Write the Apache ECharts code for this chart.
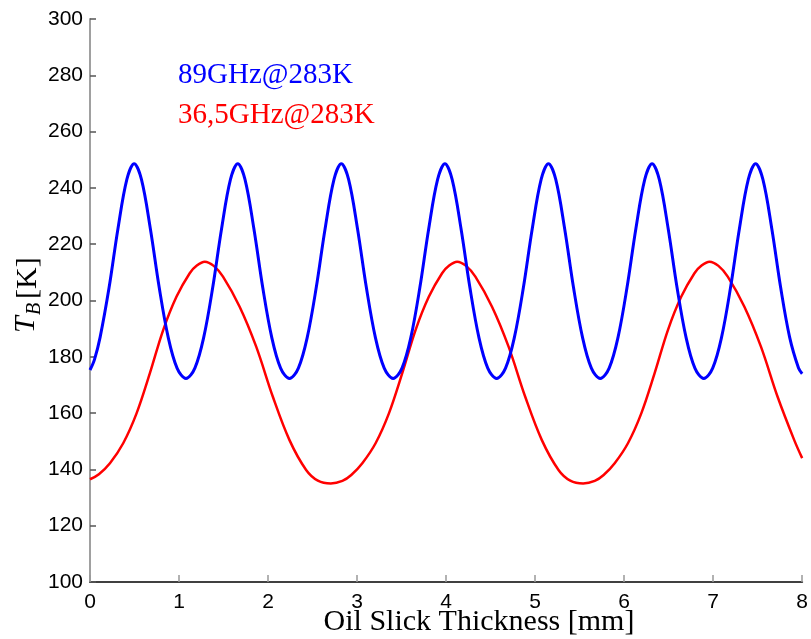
<!DOCTYPE html>
<html>
<head>
<meta charset="utf-8">
<script src="https://cdn.jsdelivr.net/npm/echarts@6/dist/echarts.min.js"></script>
<style>html,body{margin:0;padding:0;background:#fff;}#c{width:811px;height:639px;}</style>
</head>
<body>
<div id="c"></div>
<script>
// Values: [thickness mm, T_B K]
var blue89 = [
[0,175.3],[0.05,179],[0.114,187],[0.214,204.5],[0.314,225.5],[0.414,243],[0.496,248.6],
[0.578,243],[0.678,225.5],[0.778,204.5],[0.878,187],[0.978,176],[1.078,172.3],
[1.178,176],[1.278,187],[1.378,204.5],[1.478,225.5],[1.578,243],[1.660,248.6],
[1.741,243],[1.841,225.5],[1.941,204.5],[2.041,187],[2.141,176],[2.241,172.3],
[2.341,176],[2.441,187],[2.541,204.5],[2.641,225.5],[2.741,243],[2.823,248.6],
[2.905,243],[3.005,225.5],[3.105,204.5],[3.205,187],[3.305,176],[3.405,172.3],
[3.505,176],[3.605,187],[3.705,204.5],[3.805,225.5],[3.905,243],[3.987,248.6],
[4.068,243],[4.168,225.5],[4.268,204.5],[4.368,187],[4.468,176],[4.568,172.3],
[4.668,176],[4.768,187],[4.868,204.5],[4.968,225.5],[5.068,243],[5.150,248.6],
[5.232,243],[5.332,225.5],[5.432,204.5],[5.532,187],[5.632,176],[5.732,172.3],
[5.832,176],[5.932,187],[6.032,204.5],[6.132,225.5],[6.232,243],[6.314,248.6],
[6.395,243],[6.495,225.5],[6.595,204.5],[6.695,187],[6.795,176],[6.895,172.3],
[6.995,176],[7.095,187],[7.195,204.5],[7.295,225.5],[7.395,243],[7.477,248.6],
[7.559,243],[7.659,225.5],[7.759,204.5],[7.859,187],[7.959,176],[8.0,174]
];
var red365 = [
[0,136.5],[0.1,138.3],[0.224,142.2],[0.373,149.3],[0.523,159.9],[0.672,174.1],[0.822,189.5],
[0.971,201.3],[1.12,209.7],[1.20,212.4],[1.289,213.8],[1.39,212.3],[1.494,208.5],[1.681,197.8],
[1.867,183.6],[2.054,165.8],[2.241,150.4],[2.428,139.8],[2.56,136.0],[2.705,135],
[2.835,135.9],[2.935,138.0],[3.059,142.2],[3.208,149.3],[3.358,159.9],[3.507,174.1],[3.657,189.5],
[3.806,201.3],[3.955,209.7],[4.035,212.4],[4.124,213.8],[4.225,212.3],[4.329,208.5],[4.516,197.8],
[4.702,183.6],[4.889,165.8],[5.076,150.4],[5.263,139.8],[5.395,136.0],[5.54,135],
[5.67,135.9],[5.77,138.0],[5.894,142.2],[6.043,149.3],[6.193,159.9],[6.342,174.1],[6.492,189.5],
[6.641,201.3],[6.79,209.7],[6.87,212.4],[6.959,213.8],[7.06,212.3],[7.164,208.5],[7.351,197.8],
[7.537,183.6],[7.724,165.8],[7.911,150.4],[8.0,144]
];
var seriesNames = ['89GHz@283K', '36,5GHz@283K'];
var xName = 'Oil Slick Thickness [mm]';

var chart = echarts.init(document.getElementById('c'), null, {renderer: 'canvas'});
var serif = '"Liberation Serif", "Times New Roman", serif';
var sans = '"Liberation Sans", Arial, Helvetica, sans-serif';
chart.setOption({
  animation: false,
  backgroundColor: '#ffffff',
  grid: {left: 90, right: 7, top: 19, bottom: 57, containLabel: false},
  xAxis: {
    type: 'value', min: 0, max: 8, interval: 1,
    axisLine: {show: true, onZero: false, lineStyle: {color: '#404040', width: 2}},
    axisTick: {show: true, inside: true, length: 7, lineStyle: {color: '#999999', width: 1.5}},
    axisLabel: {color: '#000', fontFamily: sans, fontSize: 21, margin: 10},
    splitLine: {show: false}
  },
  yAxis: {
    type: 'value', min: 100, max: 300, interval: 20,
    axisLine: {show: true, onZero: false, lineStyle: {color: '#a0a0a0', width: 2}},
    axisTick: {show: true, inside: true, length: 6, lineStyle: {color: '#555555', width: 1.5}},
    axisLabel: {color: '#000', fontFamily: sans, fontSize: 21, margin: 7},
    splitLine: {show: false}
  },
  series: [
    {name: seriesNames[0], type: 'line', data: blue89, showSymbol: false, smooth: 0.35,
     lineStyle: {color: '#0000ff', width: 3}, z: 3},
    {name: seriesNames[1], type: 'line', data: red365, showSymbol: false, smooth: 0.35,
     lineStyle: {color: '#ff0000', width: 2.5}, z: 2}
  ],
  graphic: [
    {type: 'text', left: 178, top: 61, style: {text: seriesNames[0], fill: '#0000ff', font: '29px ' + serif}},
    {type: 'text', left: 178, top: 101, style: {text: seriesNames[1], fill: '#ff0000', font: '29px ' + serif}},
    {type: 'text', x: 479, y: 622, style: {text: xName, fill: '#000', font: '30px ' + serif, textAlign: 'center', textVerticalAlign: 'middle'}},
    {type: 'group', x: 28, y: 296, rotation: Math.PI / 2, children: [
      {type: 'text', x: -37, y: -2, style: {text: 'T', fill: '#000', font: 'italic 30px ' + serif, textAlign: 'left', textVerticalAlign: 'middle'}},
      {type: 'text', x: -19, y: 7, style: {text: 'B', fill: '#000', font: 'italic 20px ' + serif, textAlign: 'left', textVerticalAlign: 'middle'}},
      {type: 'text', x: -3, y: 0, style: {text: '[K]', fill: '#000', font: '30px ' + serif, textAlign: 'left', textVerticalAlign: 'middle'}}
    ]}
  ]
});
</script>
</body>
</html>
